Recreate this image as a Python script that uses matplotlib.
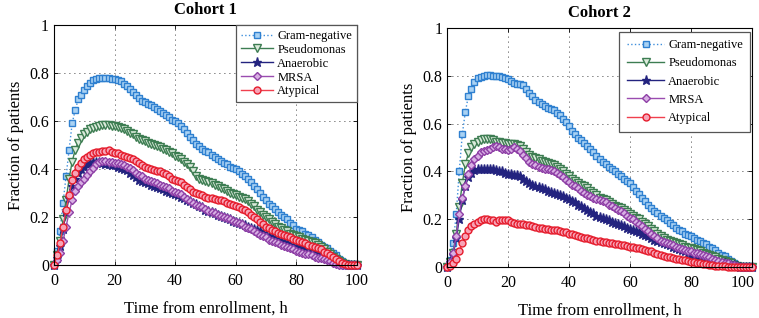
import numpy as np
import matplotlib
matplotlib.use("Agg")
import matplotlib.pyplot as plt
import matplotlib.transforms as mtransforms

plt.rcParams['font.family'] = ['Liberation Serif', 'DejaVu Serif']

# ==========================================
# DATA (fraction of patients per hour, 0..100 h)
# ==========================================
hours = list(range(0, 101))
labels = ["Gram-negative", "Pseudomonas", "Anaerobic", "MRSA", "Atypical"]
titles = ["Cohort 1", "Cohort 2"]

# --- Cohort 1 ---
gram_neg_1 = [0, 0.06, 0.14, 0.26, 0.37, 0.48, 0.59, 0.645, 0.69, 0.71,
              0.73, 0.745, 0.76, 0.77, 0.775, 0.78, 0.78, 0.78, 0.78, 0.775,
              0.775, 0.77, 0.765, 0.755, 0.745, 0.735, 0.72, 0.71, 0.695, 0.685,
              0.68, 0.67, 0.665, 0.66, 0.65, 0.64, 0.635, 0.625, 0.615, 0.605,
              0.6, 0.59, 0.58, 0.565, 0.55, 0.535, 0.52, 0.505, 0.495, 0.485,
              0.475, 0.47, 0.46, 0.45, 0.44, 0.435, 0.425, 0.42, 0.41, 0.405,
              0.4, 0.39, 0.38, 0.37, 0.36, 0.345, 0.33, 0.315, 0.3, 0.285,
              0.27, 0.255, 0.245, 0.235, 0.22, 0.21, 0.2, 0.19, 0.175, 0.165,
              0.15, 0.145, 0.14, 0.13, 0.125, 0.115, 0.105, 0.095, 0.085, 0.075,
              0.07, 0.06, 0.05, 0.04, 0.025, 0.015, 0.005, 0, 0, 0,
              0]
pseudo_1 = [0, 0.04, 0.1, 0.19, 0.27, 0.36, 0.43, 0.48, 0.51, 0.53,
            0.545, 0.555, 0.565, 0.57, 0.575, 0.58, 0.585, 0.585, 0.585, 0.58,
            0.58, 0.575, 0.57, 0.565, 0.56, 0.55, 0.545, 0.535, 0.525, 0.52,
            0.515, 0.51, 0.505, 0.5, 0.495, 0.49, 0.485, 0.48, 0.47, 0.465,
            0.455, 0.45, 0.44, 0.43, 0.42, 0.41, 0.39, 0.37, 0.36, 0.355,
            0.35, 0.345, 0.34, 0.335, 0.33, 0.32, 0.315, 0.31, 0.3, 0.295,
            0.29, 0.285, 0.28, 0.275, 0.265, 0.255, 0.245, 0.23, 0.22, 0.21,
            0.2, 0.19, 0.18, 0.17, 0.16, 0.155, 0.145, 0.14, 0.13, 0.125,
            0.12, 0.115, 0.11, 0.105, 0.1, 0.095, 0.09, 0.085, 0.075, 0.065,
            0.055, 0.045, 0.035, 0.025, 0.015, 0.008, 0.003, 0, 0, 0,
            0]
anaer_1 = [0, 0.03, 0.08, 0.15, 0.22, 0.28, 0.33, 0.36, 0.385, 0.4,
           0.41, 0.42, 0.425, 0.43, 0.43, 0.43, 0.425, 0.42, 0.42, 0.415,
           0.415, 0.41, 0.405, 0.4, 0.395, 0.385, 0.375, 0.365, 0.355, 0.35,
           0.345, 0.34, 0.335, 0.33, 0.325, 0.32, 0.315, 0.31, 0.305, 0.3,
           0.295, 0.29, 0.285, 0.28, 0.27, 0.265, 0.26, 0.255, 0.245, 0.24,
           0.23, 0.225, 0.22, 0.215, 0.21, 0.205, 0.2, 0.195, 0.19, 0.185,
           0.18, 0.175, 0.17, 0.165, 0.16, 0.155, 0.15, 0.145, 0.14, 0.135,
           0.125, 0.12, 0.115, 0.11, 0.105, 0.1, 0.095, 0.09, 0.085, 0.08,
           0.075, 0.075, 0.07, 0.065, 0.065, 0.06, 0.055, 0.05, 0.045, 0.04,
           0.035, 0.03, 0.025, 0.015, 0.01, 0.005, 0, 0, 0, 0,
           0]
mrsa_1 = [0, 0.02, 0.05, 0.1, 0.16, 0.22, 0.27, 0.31, 0.33, 0.345,
          0.36, 0.375, 0.39, 0.405, 0.42, 0.43, 0.435, 0.435, 0.43, 0.43,
          0.425, 0.425, 0.42, 0.415, 0.41, 0.405, 0.395, 0.385, 0.375, 0.37,
          0.36, 0.355, 0.35, 0.345, 0.34, 0.335, 0.33, 0.325, 0.32, 0.31,
          0.305, 0.3, 0.295, 0.285, 0.275, 0.265, 0.26, 0.25, 0.245, 0.24,
          0.235, 0.225, 0.22, 0.215, 0.21, 0.205, 0.2, 0.195, 0.19, 0.185,
          0.18, 0.175, 0.17, 0.16, 0.155, 0.15, 0.14, 0.135, 0.125, 0.12,
          0.115, 0.105, 0.1, 0.095, 0.09, 0.085, 0.08, 0.075, 0.07, 0.065,
          0.06, 0.055, 0.05, 0.045, 0.045, 0.04, 0.035, 0.03, 0.03, 0.025,
          0.02, 0.015, 0.01, 0.005, 0, 0, 0, 0, 0, 0,
          0]
atyp_1 = [0, 0.04, 0.09, 0.16, 0.23, 0.29, 0.355, 0.385, 0.41, 0.425,
          0.44, 0.45, 0.46, 0.465, 0.47, 0.47, 0.475, 0.475, 0.48, 0.47,
          0.465, 0.465, 0.46, 0.455, 0.45, 0.445, 0.44, 0.435, 0.425, 0.415,
          0.41, 0.405, 0.4, 0.395, 0.39, 0.39, 0.385, 0.38, 0.37, 0.36,
          0.355, 0.35, 0.345, 0.335, 0.325, 0.315, 0.305, 0.3, 0.295, 0.29,
          0.285, 0.28, 0.28, 0.275, 0.27, 0.27, 0.265, 0.26, 0.255, 0.25,
          0.245, 0.24, 0.235, 0.23, 0.22, 0.21, 0.2, 0.19, 0.18, 0.17,
          0.16, 0.155, 0.145, 0.14, 0.135, 0.13, 0.125, 0.12, 0.115, 0.11,
          0.105, 0.1, 0.095, 0.09, 0.085, 0.08, 0.075, 0.07, 0.065, 0.055,
          0.05, 0.04, 0.035, 0.025, 0.015, 0.01, 0.005, 0, 0, 0,
          0]

# --- Cohort 2 ---
gram_neg_2 = [0, 0.03, 0.1, 0.22, 0.4, 0.555, 0.65, 0.715, 0.745, 0.775,
              0.79, 0.795, 0.8, 0.805, 0.805, 0.8, 0.8, 0.8, 0.795, 0.79,
              0.785, 0.78, 0.77, 0.765, 0.765, 0.76, 0.745, 0.73, 0.715, 0.7,
              0.69, 0.68, 0.675, 0.665, 0.66, 0.655, 0.645, 0.635, 0.62, 0.605,
              0.59, 0.57, 0.555, 0.54, 0.53, 0.52, 0.505, 0.495, 0.48, 0.465,
              0.45, 0.44, 0.43, 0.42, 0.41, 0.4, 0.39, 0.38, 0.37, 0.36,
              0.35, 0.335, 0.32, 0.305, 0.29, 0.275, 0.26, 0.245, 0.235, 0.225,
              0.215, 0.205, 0.195, 0.185, 0.175, 0.165, 0.155, 0.15, 0.14, 0.135,
              0.13, 0.12, 0.115, 0.11, 0.1, 0.095, 0.085, 0.08, 0.07, 0.06,
              0.05, 0.045, 0.035, 0.025, 0.015, 0.005, 0, 0, 0, 0,
              0]
pseudo_2 = [0, 0.02, 0.06, 0.14, 0.25, 0.35, 0.43, 0.475, 0.5, 0.515,
            0.525, 0.53, 0.535, 0.535, 0.535, 0.53, 0.525, 0.525, 0.52, 0.52,
            0.515, 0.515, 0.515, 0.51, 0.505, 0.495, 0.48, 0.47, 0.46, 0.455,
            0.45, 0.445, 0.44, 0.435, 0.43, 0.425, 0.42, 0.41, 0.4, 0.39,
            0.38, 0.37, 0.36, 0.35, 0.345, 0.34, 0.33, 0.32, 0.31, 0.3,
            0.29, 0.285, 0.28, 0.27, 0.265, 0.255, 0.25, 0.245, 0.24, 0.23,
            0.22, 0.215, 0.205, 0.2, 0.19, 0.18, 0.17, 0.16, 0.15, 0.14,
            0.13, 0.12, 0.115, 0.11, 0.105, 0.1, 0.095, 0.09, 0.085, 0.08,
            0.078, 0.075, 0.07, 0.065, 0.06, 0.055, 0.05, 0.045, 0.04, 0.035,
            0.03, 0.025, 0.02, 0.015, 0.01, 0.005, 0, 0, 0, 0,
            0]
anaer_2 = [0, 0.02, 0.05, 0.12, 0.2, 0.28, 0.34, 0.375, 0.395, 0.405,
           0.41, 0.41, 0.41, 0.41, 0.41, 0.41, 0.405, 0.4, 0.4, 0.395,
           0.39, 0.39, 0.385, 0.385, 0.38, 0.37, 0.36, 0.35, 0.345, 0.34,
           0.335, 0.33, 0.325, 0.32, 0.315, 0.31, 0.305, 0.3, 0.295, 0.29,
           0.285, 0.275, 0.27, 0.26, 0.255, 0.245, 0.24, 0.23, 0.225, 0.215,
           0.21, 0.205, 0.2, 0.195, 0.19, 0.185, 0.18, 0.175, 0.17, 0.165,
           0.16, 0.155, 0.15, 0.145, 0.14, 0.135, 0.13, 0.12, 0.115, 0.11,
           0.105, 0.1, 0.095, 0.09, 0.085, 0.08, 0.075, 0.07, 0.065, 0.06,
           0.055, 0.05, 0.048, 0.045, 0.04, 0.035, 0.032, 0.03, 0.025, 0.02,
           0.018, 0.015, 0.012, 0.01, 0.008, 0.005, 0.002, 0, 0, 0,
           0]
mrsa_2 = [0, 0.02, 0.06, 0.13, 0.22, 0.29, 0.34, 0.39, 0.425, 0.45,
          0.465, 0.48, 0.485, 0.49, 0.495, 0.5, 0.505, 0.5, 0.495, 0.495,
          0.49, 0.495, 0.5, 0.495, 0.485, 0.47, 0.455, 0.44, 0.43, 0.425,
          0.42, 0.415, 0.41, 0.41, 0.405, 0.4, 0.395, 0.385, 0.375, 0.365,
          0.355, 0.345, 0.34, 0.33, 0.32, 0.31, 0.3, 0.295, 0.29, 0.285,
          0.28, 0.275, 0.27, 0.26, 0.255, 0.245, 0.24, 0.235, 0.225, 0.215,
          0.205, 0.2, 0.19, 0.18, 0.17, 0.16, 0.15, 0.14, 0.13, 0.12,
          0.11, 0.105, 0.1, 0.095, 0.09, 0.085, 0.08, 0.075, 0.07, 0.068,
          0.065, 0.06, 0.058, 0.055, 0.05, 0.045, 0.04, 0.035, 0.03, 0.025,
          0.02, 0.018, 0.015, 0.01, 0.008, 0.005, 0.002, 0, 0, 0,
          0]
atyp_2 = [0, 0.005, 0.015, 0.035, 0.065, 0.1, 0.13, 0.155, 0.17, 0.18,
          0.19, 0.195, 0.2, 0.2, 0.195, 0.195, 0.19, 0.195, 0.195, 0.195,
          0.195, 0.19, 0.185, 0.18, 0.18, 0.178, 0.175, 0.175, 0.17, 0.168,
          0.165, 0.162, 0.16, 0.158, 0.155, 0.155, 0.153, 0.15, 0.148, 0.145,
          0.14, 0.137, 0.133, 0.13, 0.127, 0.123, 0.12, 0.117, 0.113, 0.11,
          0.108, 0.105, 0.103, 0.1, 0.1, 0.098, 0.095, 0.093, 0.09, 0.087,
          0.085, 0.083, 0.08, 0.078, 0.075, 0.072, 0.068, 0.065, 0.06, 0.055,
          0.05, 0.047, 0.043, 0.04, 0.037, 0.035, 0.033, 0.03, 0.028, 0.025,
          0.022, 0.02, 0.018, 0.016, 0.014, 0.012, 0.01, 0.008, 0.006, 0.005,
          0.004, 0.003, 0.002, 0.001, 0, 0, 0, 0, 0, 0,
          0]

cohorts = [
    [gram_neg_1, pseudo_1, anaer_1, mrsa_1, atyp_1],
    [gram_neg_2, pseudo_2, anaer_2, mrsa_2, atyp_2],
]

# --------------------------
# Styles (MATLAB-ish)
# --------------------------
styles = [
    dict(ls=':', color='#3f8fdc', marker='s', mec='#2f80d0', mfc='#a9d2f3'),
    dict(ls='-', color='#3d7d52', marker='v', mec='#3d7d52', mfc='#dcebdc'),
    dict(ls='-', color='#23237f', marker='*', mec='#23237f', mfc='#23237f'),
    dict(ls='-', color='#9a4cb0', marker='D', mec='#8e3fa6', mfc='#d8b0e4'),
    dict(ls='-', color='#f0404e', marker='o', mec='#e51c2c', mfc='#f7a3b6'),
]
msizes = [5, 5.5, 6.5, 4.2, 5]

# legend layout differs a little between the two panels
legend_opts = [
    dict(labelspacing=0.15, handlelength=2.6, borderpad=0.4,
         bbox_to_anchor=(1.0, 1.0)),
    dict(labelspacing=0.5, handlelength=3.0, borderpad=0.6,
         bbox_to_anchor=(0.995, 0.985)),
]

fig = plt.figure(figsize=(7.59, 3.18), dpi=100)
axes = [fig.add_axes([0.0711, 0.1667, 0.3992, 0.7547]),
        fig.add_axes([0.589, 0.1604, 0.4018, 0.7516])]

for ax, data, title, lopt in zip(axes, cohorts, titles, legend_opts):
    for vals, lab, st, ms in zip(data, labels, styles, msizes):
        ax.plot(hours, vals, label=lab, lw=1.0, ms=ms, mew=1.0,
                clip_on=False, **st)

    ax.set_xlim(0, 100)
    ax.set_ylim(0, 1)
    ax.set_xticks([0, 20, 40, 60, 80, 100])
    ax.set_yticks([0, 0.2, 0.4, 0.6, 0.8, 1])
    ax.set_yticklabels(["0", "0.2", "0.4", "0.6", "0.8", "1"])
    ax.tick_params(direction='in', top=True, right=True, labelsize=11.5,
                   length=3, width=0.6)
    ax.tick_params(axis='x', pad=6)
    ax.grid(True, color='black', linestyle=(0, (1, 5)), linewidth=0.6)
    for sp in ax.spines.values():
        sp.set_linewidth(0.8)

    ax.set_title(title, fontsize=12, fontweight='bold', pad=8)
    ax.set_xlabel("Time from enrollment, h", fontsize=12, labelpad=8)
    ax.set_ylabel("Fraction of patients", fontsize=12, labelpad=4)

    leg = ax.legend(loc='upper right', fontsize=9, fancybox=False,
                    framealpha=1, edgecolor='#555555', borderaxespad=0,
                    handletextpad=0.3, **lopt)
    leg.get_frame().set_linewidth(0.9)

# last x tick label of the right panel is nudged left so it stays on the page
last = axes[1].get_xticklabels()[-1]
last.set_transform(last.get_transform() +
                   mtransforms.ScaledTranslation(-9 / 100, 0, fig.dpi_scale_trans))

fig.savefig("out.png", dpi=100)
